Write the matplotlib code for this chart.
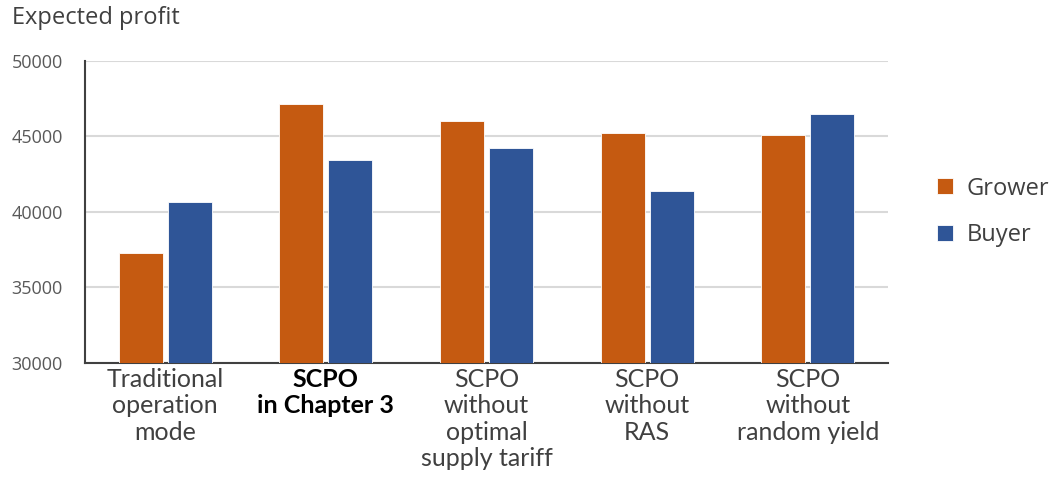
import matplotlib.pyplot as plt
import numpy as np

# expected profit per scenario
categories = ["Traditional\noperation\nmode", "SCPO\nin Chapter 3", "SCPO\nwithout\noptimal\nsupply tariff",
              "SCPO\nwithout\nRAS", "SCPO\nwithout\nrandom yield"]
grower = [37250, 47130, 46030, 45260, 45080]
buyer = [40640, 43470, 44260, 41350, 46470]

orange = "#c55a11"
blue = "#2f5597"

fig = plt.figure(figsize=(10.49, 4.78), dpi=100)
ax = fig.add_axes([85 / 1049, 1 - 362.7 / 478, 803 / 1049, 301.7 / 478])

x = np.arange(len(categories))
w = 0.275
ax.bar(x - w / 2 - 0.015, grower, w, color=orange, edgecolor="white", linewidth=0.6, label="Grower", zorder=3)
ax.bar(x + w / 2 + 0.015, buyer, w, color=blue, edgecolor="white", linewidth=0.6, label="Buyer", zorder=3)

ax.set_xlim(-0.5, len(categories) - 0.5)
ax.set_ylim(30000, 50000)
ax.set_yticks(range(30000, 50001, 5000))
ax.grid(axis="y", color="#d9d9d9", linewidth=1.5, zorder=0)
for s in ["top", "right"]:
    ax.spines[s].set_visible(False)
ax.spines["left"].set_color("#404040")
ax.spines["bottom"].set_color("#404040")
ax.spines["left"].set_linewidth(1.5)
ax.spines["bottom"].set_linewidth(1.5)
ax.tick_params(axis="both", length=0)
ax.tick_params(axis="y", labelsize=13, labelcolor="#595959", pad=16)
for lbl in ax.get_yticklabels():
    lbl.set_family(["Open Sans", "DejaVu Sans"])

ax.set_xticks(x)
ax.set_xticklabels(categories, fontsize=18, color="#404040", linespacing=1.17,
                   family=["Lato", "DejaVu Sans"])
ax.tick_params(axis="x", pad=4)
ax.get_xticklabels()[1].set_fontweight("bold")
ax.get_xticklabels()[1].set_color("black")

fig.text(12 / 1049, 1 - 18 / 478, "Expected profit", fontsize=17, color="#404040",
         va="center", family=["Open Sans", "DejaVu Sans"])

leg = ax.legend(loc="center left", bbox_to_anchor=(1.035, 0.50), frameon=False,
                fontsize=17, handlelength=0.65, handleheight=0.65, handletextpad=0.6,
                labelspacing=0.95)
for t in leg.get_texts():
    t.set_color("#404040")
    t.set_family(["Open Sans", "DejaVu Sans"])

fig.savefig("out.png", dpi=100)
